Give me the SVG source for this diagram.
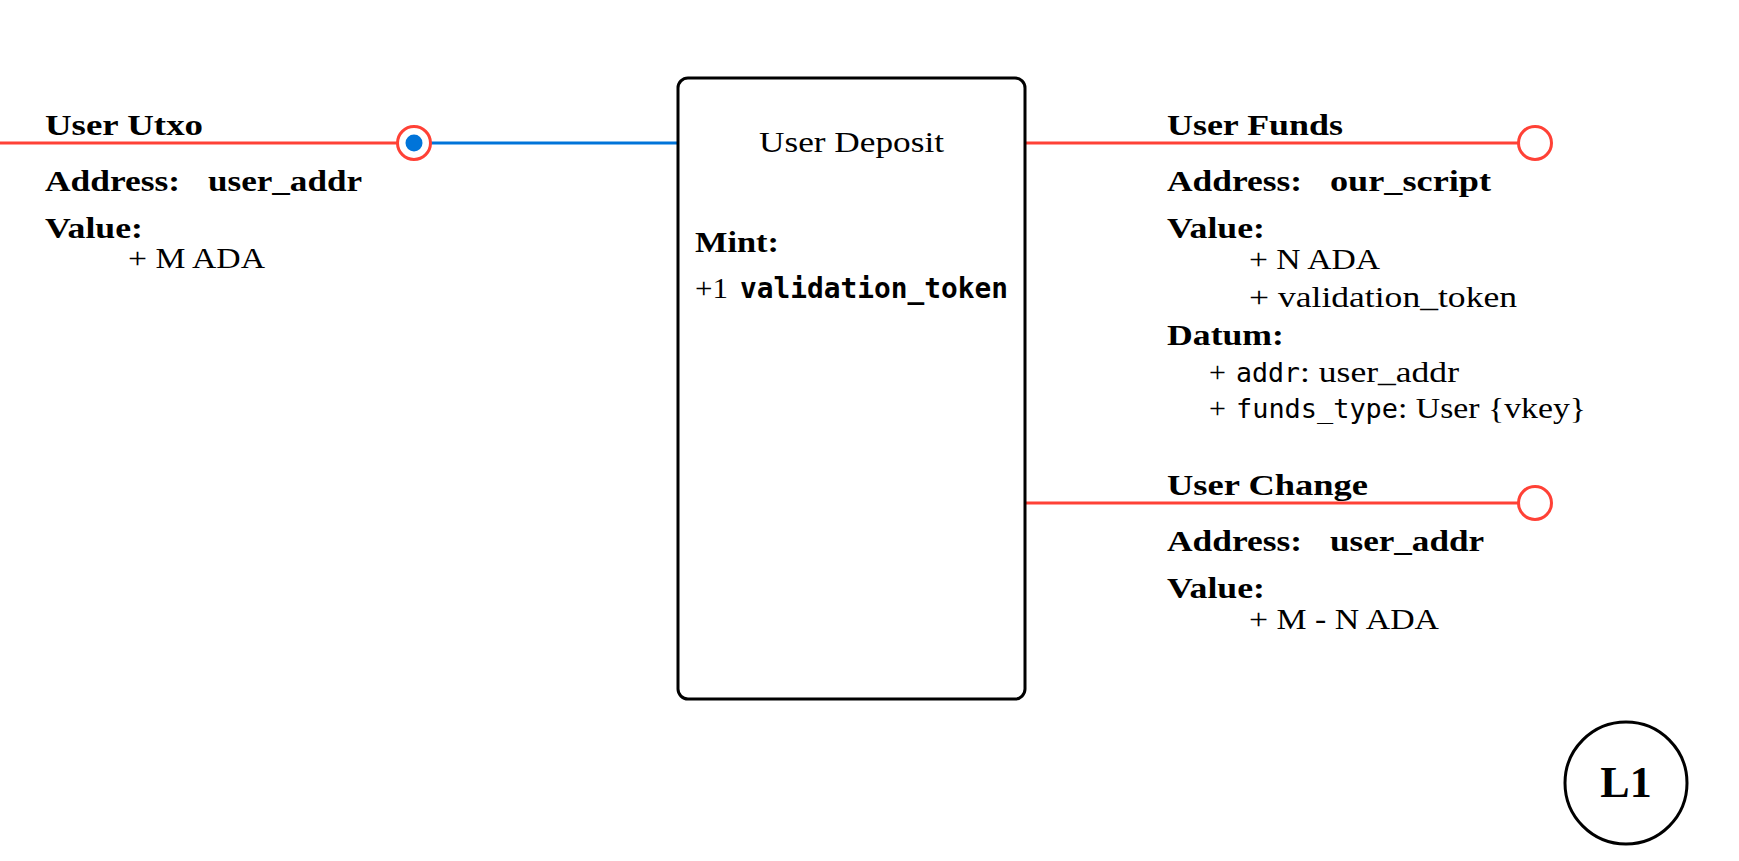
<svg xmlns="http://www.w3.org/2000/svg" width="1739" height="861" viewBox="0 0 1739 861">
<style>
.t{font-family:"Liberation Serif","Times New Roman",serif;font-size:30px;fill:#000}
.b{font-weight:bold}
.m{font-family:"DejaVu Sans Mono","Liberation Mono",monospace;font-size:26px;fill:#000}
.mb{font-family:"DejaVu Sans Mono","Liberation Mono",monospace;font-size:28px;font-weight:bold;fill:#000}
.red{stroke:#ff4136;stroke-width:3;fill:none}
.blue{stroke:#0074d9;stroke-width:3;fill:none}
.port{stroke:#ff4136;stroke-width:3;fill:#fff}
</style>
<rect width="1739" height="861" fill="#fff"/>
<g id="connectors">
<line class="red" x1="0" y1="143" x2="397" y2="143"/>
<line class="blue" x1="414" y1="143" x2="678" y2="143"/>
<line class="red" x1="1025" y1="143" x2="1518" y2="143"/>
<line class="red" x1="1025" y1="503" x2="1518" y2="503"/>
</g>
<g id="user-utxo">
<circle class="port" cx="414" cy="143" r="16.5"/>
<circle cx="414" cy="143" r="8.5" fill="#0074d9"/>
<text class="t b" x="45" y="135" textLength="158" lengthAdjust="spacingAndGlyphs">User Utxo</text>
<text class="t b" x="45" y="191" textLength="135" lengthAdjust="spacingAndGlyphs">Address:</text>
<text class="t b" x="208" y="191" textLength="154" lengthAdjust="spacingAndGlyphs">user_addr</text>
<text class="t b" x="45" y="238" textLength="98" lengthAdjust="spacingAndGlyphs">Value:</text>
<text class="t" x="128" y="268" textLength="137" lengthAdjust="spacingAndGlyphs">+ M ADA</text>
</g>
<g id="user-deposit">
<rect x="678" y="78" width="347" height="621" rx="10" fill="#fff" stroke="#000" stroke-width="3"/>
<text class="t" x="851.5" y="152" text-anchor="middle" textLength="185" lengthAdjust="spacingAndGlyphs">User Deposit</text>
<text class="t b" x="695" y="252" textLength="84" lengthAdjust="spacingAndGlyphs">Mint:</text>
<text class="t" x="695" y="298" textLength="33" lengthAdjust="spacingAndGlyphs">+1</text>
<text class="mb" x="740" y="298" textLength="268" lengthAdjust="spacingAndGlyphs">validation_token</text>
</g>
<g id="user-funds">
<circle class="port" cx="1535" cy="143" r="16.5"/>
<text class="t b" x="1167" y="135" textLength="176" lengthAdjust="spacingAndGlyphs">User Funds</text>
<text class="t b" x="1167" y="191" textLength="135" lengthAdjust="spacingAndGlyphs">Address:</text>
<text class="t b" x="1330" y="191" textLength="161" lengthAdjust="spacingAndGlyphs">our_script</text>
<text class="t b" x="1167" y="238" textLength="98" lengthAdjust="spacingAndGlyphs">Value:</text>
<text class="t" x="1249" y="269" textLength="131" lengthAdjust="spacingAndGlyphs">+ N ADA</text>
<text class="t" x="1249" y="307" textLength="268" lengthAdjust="spacingAndGlyphs">+ validation_token</text>
<text class="t b" x="1167" y="345" textLength="117" lengthAdjust="spacingAndGlyphs">Datum:</text>
<text class="t" x="1209" y="382">+</text>
<text class="m" x="1236" y="382" textLength="64" lengthAdjust="spacingAndGlyphs">addr</text>
<text class="t" x="1300" y="382" textLength="159" lengthAdjust="spacingAndGlyphs">: user_addr</text>
<text class="t" x="1209" y="418">+</text>
<text class="m" x="1236" y="418" textLength="162" lengthAdjust="spacingAndGlyphs">funds_type</text>
<text class="t" x="1398" y="418" textLength="188" lengthAdjust="spacingAndGlyphs">: User {vkey}</text>
</g>
<g id="user-change">
<circle class="port" cx="1535" cy="503" r="16.5"/>
<text class="t b" x="1167" y="495" textLength="201" lengthAdjust="spacingAndGlyphs">User Change</text>
<text class="t b" x="1167" y="551" textLength="135" lengthAdjust="spacingAndGlyphs">Address:</text>
<text class="t b" x="1330" y="551" textLength="154" lengthAdjust="spacingAndGlyphs">user_addr</text>
<text class="t b" x="1167" y="598" textLength="98" lengthAdjust="spacingAndGlyphs">Value:</text>
<text class="t" x="1249" y="629" textLength="190" lengthAdjust="spacingAndGlyphs">+ M - N ADA</text>
</g>
<g id="label-l1">
<circle cx="1626" cy="783" r="61" fill="#fff" stroke="#000" stroke-width="3"/>
<text class="t b" x="1626" y="797" text-anchor="middle" style="font-size:44px">L1</text>
</g>
</svg>
